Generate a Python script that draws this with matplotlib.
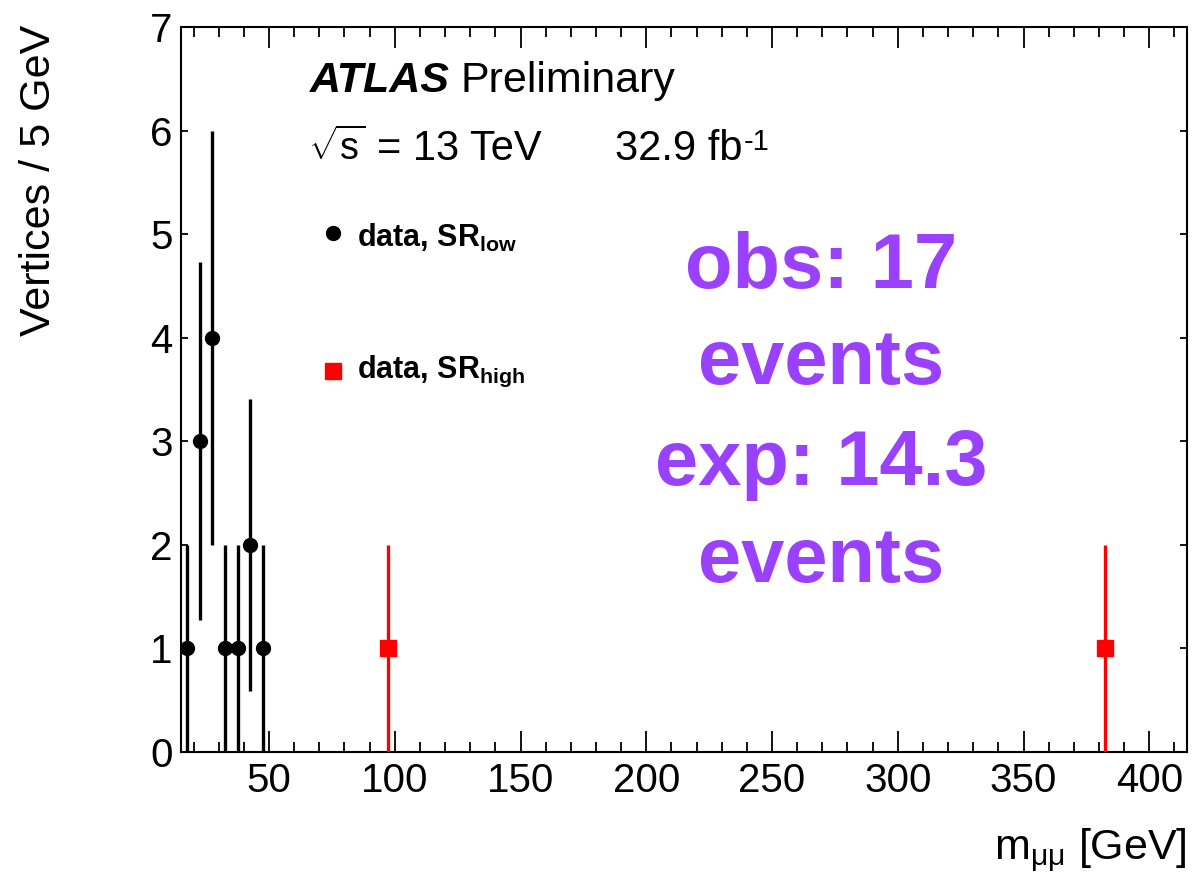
#!/usr/bin/env python3
# -*- coding:utf-8 -*-
# displaced vertex invariant mass, SR low / SR high data points
import matplotlib
matplotlib.use("Agg")
import matplotlib.pyplot as plt
from matplotlib.ticker import MultipleLocator, NullLocator

plt.rcParams["font.family"] = ["Liberation Sans", "DejaVu Sans"]
plt.rcParams["mathtext.fontset"] = "custom"
plt.rcParams["mathtext.rm"] = "Liberation Sans"
plt.rcParams["mathtext.it"] = "Liberation Sans:italic"
plt.rcParams["mathtext.bf"] = "Liberation Sans:bold"

# bin centres [GeV], counts per 5 GeV bin and their errors
mass_low = [17.5, 22.5, 27.5, 32.5, 37.5, 42.5, 47.5]
vert_low = [1, 3, 4, 1, 1, 2, 1]
err_low = [1.0, 1.73, 2.0, 1.0, 1.0, 1.41, 1.0]

mass_high = [97.5, 382.5]
vert_high = [1, 1]
err_high = [1.0, 1.0]

obs_events = 17
exp_events = 14.3
lumi = 32.9

W, H = 1198, 875
fig = plt.figure(figsize=(W / 100, H / 100), dpi=100)
ax = fig.add_axes([181 / W, 1 - 752 / H, 1006 / W, 725 / H])

# data points
ax.errorbar(mass_low, vert_low, yerr=err_low, fmt="o", color="black",
            markersize=10, elinewidth=2.4, capsize=0, zorder=3)
ax.errorbar(mass_high, vert_high, yerr=err_high, fmt="s", color="#ff0000",
            markersize=11.5, elinewidth=2.4, capsize=0, zorder=3)

ax.set_xlim(15, 415)
ax.set_ylim(0, 7)

# ROOT style axes: ticks inside on all four sides
ax.xaxis.set_major_locator(MultipleLocator(50))
ax.xaxis.set_minor_locator(MultipleLocator(10))
ax.yaxis.set_major_locator(MultipleLocator(1))
ax.yaxis.set_minor_locator(NullLocator())
ax.tick_params(axis="x", which="major", direction="in", length=15, width=1.3,
               top=True, labelsize=29, pad=7)
ax.tick_params(axis="x", which="minor", direction="in", length=7.5, width=1.3,
               top=True)
ax.tick_params(axis="y", which="major", direction="in", length=5, width=1.3,
               right=True, labelsize=29, pad=6)
for s in ax.spines.values():
    s.set_linewidth(1.5)

# axis titles
fig.text(39 / W, 1 - 25 / H, "Vertices / 5 GeV", rotation=90, ha="center",
         va="top", fontsize=31)
fig.text(1187 / W, 1 - 860 / H, r"m$_{\mathrm{μμ}}$ [GeV]", ha="right",
         va="baseline", fontsize=31)

# labels
def axpos(px, py):
    return (px - 181) / 1006, (752 - py) / 725

x, y = axpos(310, 92)
ax.text(x, y, "ATLAS", transform=ax.transAxes, fontsize=31,
        fontweight="bold", fontstyle="italic", va="baseline")
x, y = axpos(460, 92)
ax.text(x, y, "Preliminary", transform=ax.transAxes, fontsize=31,
        va="baseline")
x, y = axpos(308, 160)
ax.text(x, y, r"$\sqrt{\mathrm{s}}$", transform=ax.transAxes,
        fontsize=27, va="baseline")
x, y = axpos(377, 160)
ax.text(x, y, "= 13 TeV", transform=ax.transAxes, fontsize=30,
        va="baseline")
x, y = axpos(615, 160)
t_lumi = ax.text(x, y, "%.1f fb" % lumi, transform=ax.transAxes,
                 fontsize=30, va="baseline")
ax.annotate("-1", xy=(1, 0), xycoords=t_lumi, xytext=(1, 14),
            textcoords="offset points", fontsize=21, va="baseline")

# legend entries
x, y = axpos(333, 233)
ax.plot([x], [y], "o", color="black", markersize=10, transform=ax.transAxes,
        clip_on=False)
x, y = axpos(357, 247)
ax.text(x, y, r"data, SR$_{\mathbf{low}}$", transform=ax.transAxes,
        fontsize=22, fontweight="bold", va="baseline")
x, y = axpos(333, 371)
ax.plot([x], [y], "s", color="#ff0000", markersize=11.5,
        transform=ax.transAxes, clip_on=False)
x, y = axpos(357, 378)
ax.text(x, y, r"data, SR$_{\mathbf{high}}$", transform=ax.transAxes,
        fontsize=22, fontweight="bold", va="baseline")

# observed / expected yields
purple = "#9a40ff"
lines = ["obs: %d" % obs_events, "events", "exp: %.1f" % exp_events, "events"]
baselines = [288, 384, 485, 582]
for txt, by in zip(lines, baselines):
    x, y = axpos(821, by)
    ax.text(x, y, txt, transform=ax.transAxes, fontsize=56,
            fontweight="bold", color=purple, ha="center", va="baseline")

fig.savefig("out.png", dpi=100)
